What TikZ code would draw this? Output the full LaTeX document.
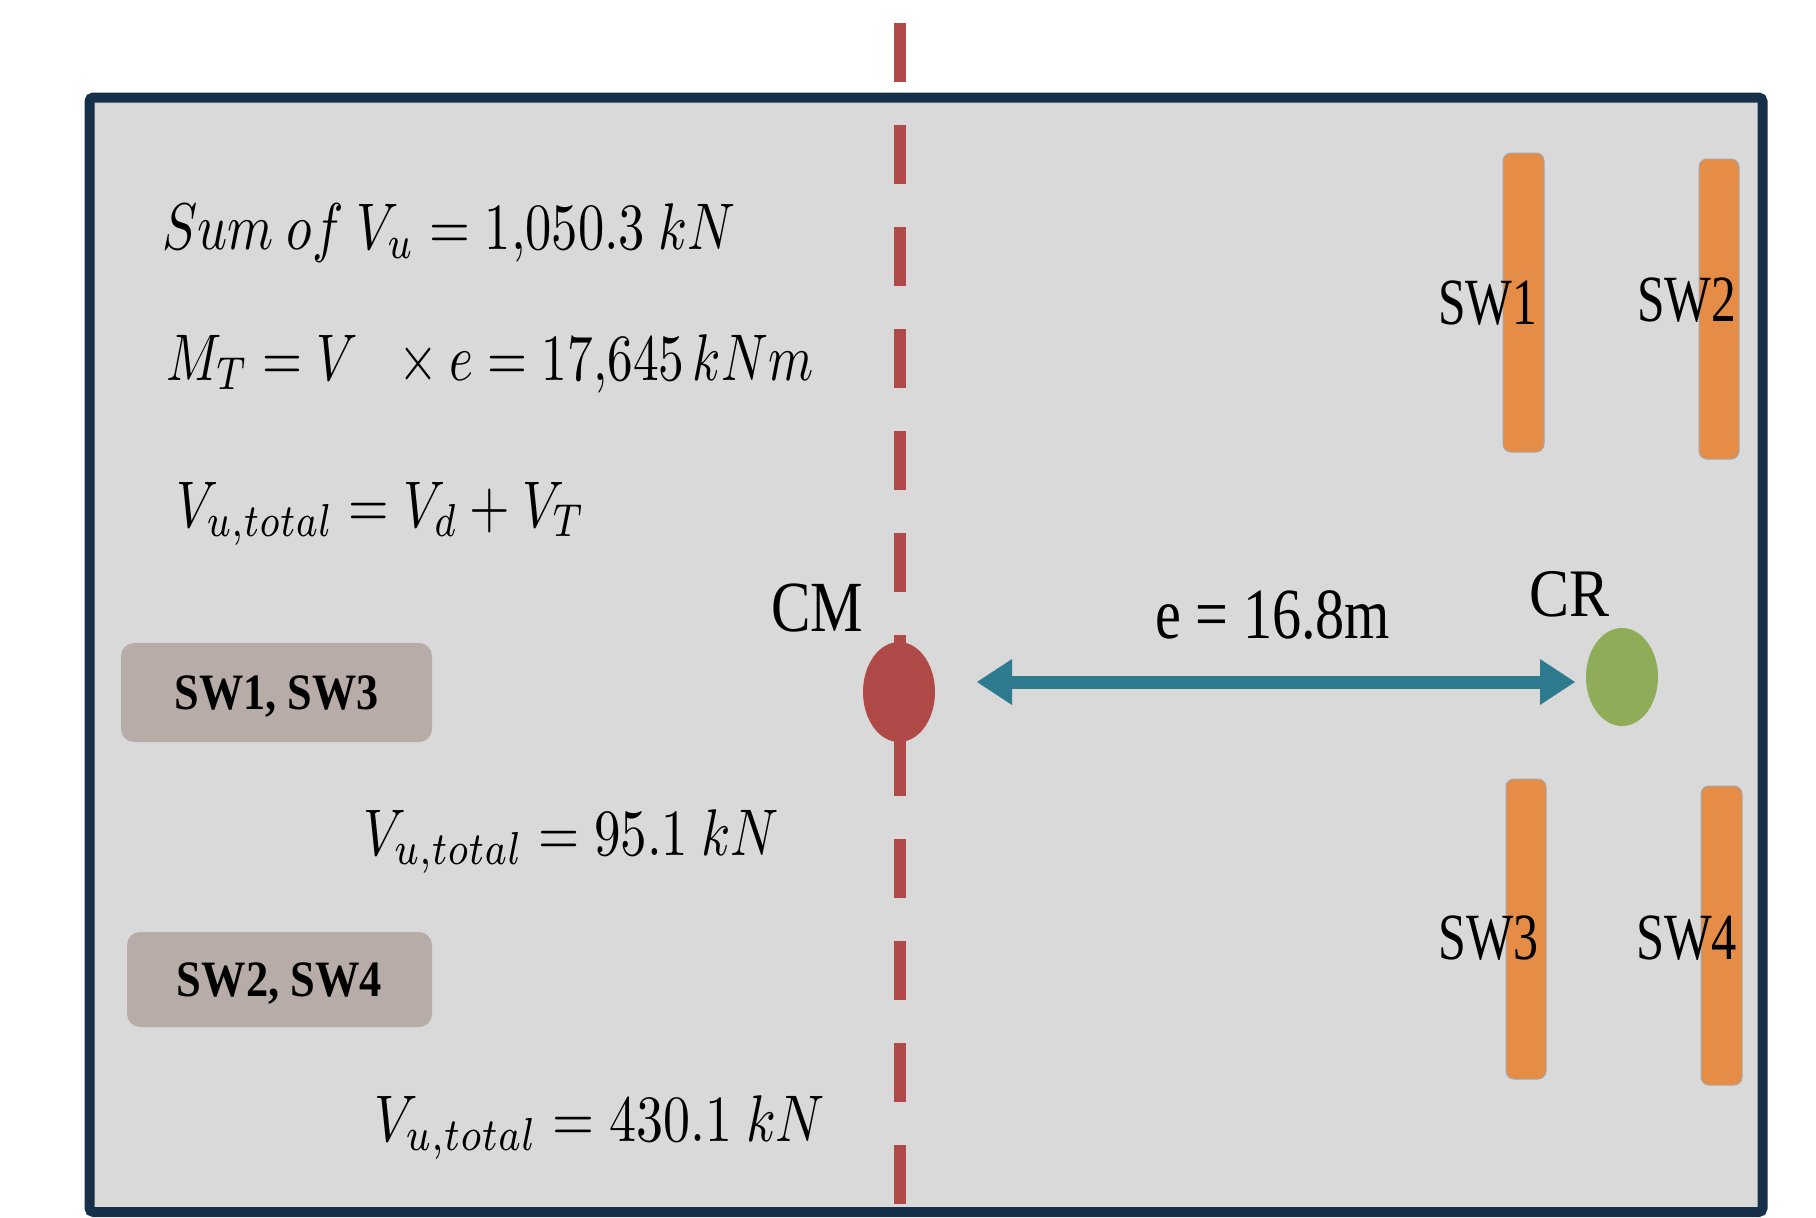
\documentclass[tikz,border=0pt]{standalone}
\usepackage{fontspec}
\usepackage{graphicx}
\setmainfont{Liberation Serif}
\usetikzlibrary{arrows.meta,shapes.geometric}
\definecolor{framecol}{RGB}{22,48,74}
\definecolor{bgcol}{RGB}{217,217,217}
\definecolor{dashcol}{RGB}{176,74,72}
\definecolor{arrowcol}{RGB}{46,123,143}
\definecolor{crcol}{RGB}{143,173,88}
\definecolor{swcol}{RGB}{229,140,70}
\definecolor{boxcol}{RGB}{183,172,167}
\newcommand{\wfit}[2]{\resizebox{#1}{\height}{#2}}
\newcommand{\mth}[2]{\resizebox{#1}{\height}{\scalebox{6.6}{$#2$}}}
\tikzset{
  lbl/.style={anchor=base west, inner sep=0pt, text=black},
  swbar/.style={rectangle, rounded corners=8pt, fill=swcol, draw=black!35, line width=1pt, inner sep=0pt},
  grpbox/.style={rectangle, rounded corners=13pt, fill=boxcol, inner sep=0pt, text height=34pt, text depth=0pt},
  dot/.style={ellipse, inner sep=0pt, minimum width=72pt, minimum height=100pt},
}
\begin{document}
\begin{tikzpicture}[x=1pt,y=-1pt]
\useasboundingbox (0,0) rectangle (1816,1218);
\fill[white] (0,0) rectangle (1816,1218);
% frame
\draw[framecol, line width=10pt, fill=bgcol, rounded corners=4pt] (89.5,97.5) rectangle (1762.5,1212);
% centre line
\draw[dashcol, line width=11.5pt, dash pattern=on 59pt off 43pt] (900,23) -- (900,1205);
% shear walls
\node[swbar, minimum width=41pt, minimum height=299pt] (sw1bar) at (1523.5,302.5) {};
\node[swbar, minimum width=40pt, minimum height=300pt] (sw2bar) at (1719,309) {};
\node[swbar, minimum width=40pt, minimum height=300pt] (sw3bar) at (1526,929) {};
\node[swbar, minimum width=41pt, minimum height=299pt] (sw4bar) at (1721.5,935.5) {};
\node[lbl] (sw1) at (1438,324) {\wfit{99pt}{\fontsize{66}{70}\selectfont SW1}};
\node[lbl] (sw2) at (1637,321) {\wfit{99pt}{\fontsize{66}{70}\selectfont SW2}};
\node[lbl] (sw3) at (1438,959) {\wfit{100pt}{\fontsize{66}{70}\selectfont SW3}};
\node[lbl] (sw4) at (1636,959) {\wfit{101pt}{\fontsize{66}{70}\selectfont SW4}};
% CM and CR
\node[dot, fill=dashcol] (cm) at (899,692) {};
\node[dot, fill=crcol, minimum height=98pt] (cr) at (1622,677) {};
\node[lbl] (cmlbl) at (771,631) {\wfit{92pt}{\fontsize{72}{80}\selectfont CM}};
\node[lbl] (crlbl) at (1529,616) {\wfit{80pt}{\fontsize{68}{80}\selectfont CR}};
% eccentricity arrow
\coordinate (aL) at (977,682);
\coordinate (aR) at (1575,682);
\draw[arrowcol, line width=13pt, {Triangle[length=35pt,width=46pt,line width=0pt]}-{Triangle[length=35pt,width=46pt,line width=0pt]}] (aL) -- (aR);
\node[lbl] (elbl) at (1155,638) {\wfit{235pt}{\fontsize{72}{80}\selectfont e = 16.8m}};
% equations
\node[lbl] (eq1) at (162,249) {\mth{573pt}{Sum\ of\ V_u = 1{,}050.3\ kN}};
\node[lbl] (eq2) at (166,380) {\mth{647pt}{M_T = V\;\;\times e = 17{,}645\,kNm}};
\node[lbl] (eq3) at (176,527) {\mth{409pt}{V_{u,total} = V_d + V_T}};
\node[lbl] (eq4) at (363,855) {\mth{416pt}{V_{u,total} = 95.1\ kN}};
\node[lbl] (eq5) at (374,1141) {\mth{451pt}{V_{u,total} = 430.1\ kN}};
% group boxes
\node[grpbox, minimum width=311pt, minimum height=99pt] (g1) at (276.5,692.5) {\wfit{204pt}{\fontsize{51}{60}\selectfont\bfseries SW1, SW3}};
\node[grpbox, minimum width=305pt, minimum height=95pt] (g2) at (279.5,979.5) {\wfit{205pt}{\fontsize{51}{60}\selectfont\bfseries SW2, SW4}};
\end{tikzpicture}
\end{document}
